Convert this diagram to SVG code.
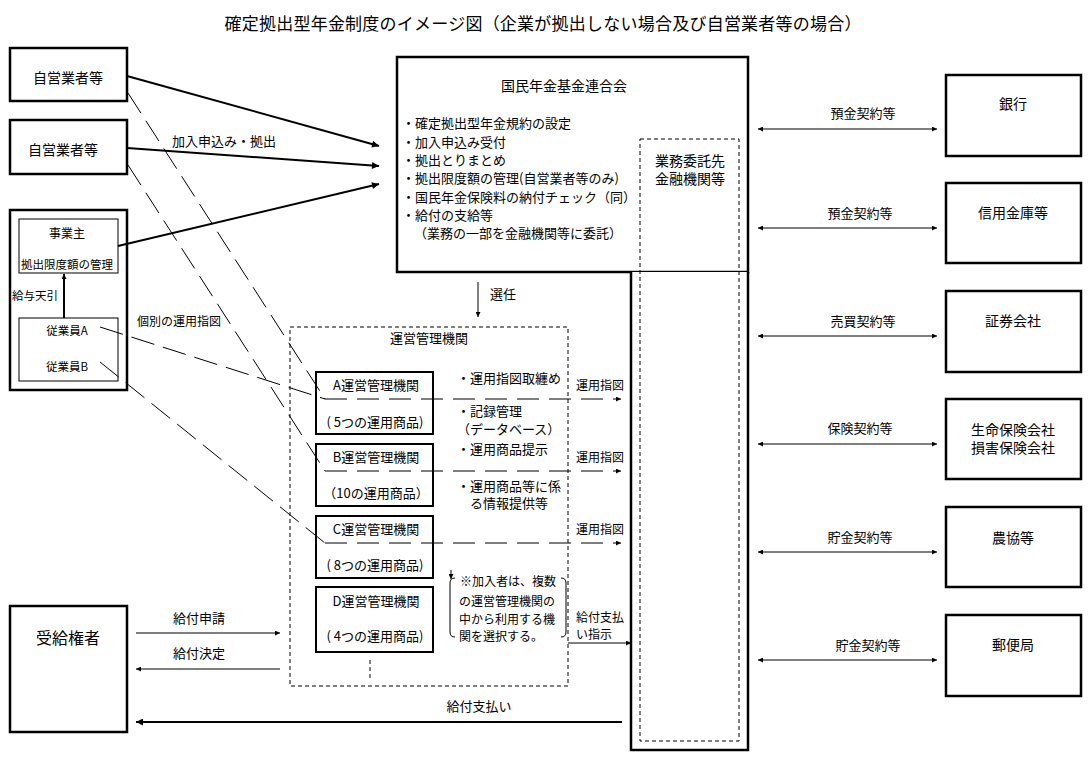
<svg xmlns="http://www.w3.org/2000/svg" width="1091" height="760" viewBox="0 0 1091 760">
<style>
text{font-family:"Noto Sans CJK JP","Noto Sans CJK SC",sans-serif;fill:#000;dominant-baseline:central}
.s11{font-size:11.5px}.s12{font-size:12px}.s13{font-size:13px}.s14{font-size:14px}.s16{font-size:16px}.s17{font-size:17px}
.m{text-anchor:middle}
.box{fill:#fff;stroke:#000;stroke-width:2.5}
.box2{fill:#fff;stroke:#000;stroke-width:2}
.thin{fill:#fff;stroke:#000;stroke-width:1}
.dbox{fill:none;stroke:#000;stroke-width:1;stroke-dasharray:4 3}
.ln{fill:none;stroke:#000;stroke-width:1}
.thick{fill:none;stroke:#000;stroke-width:2}
.ld{fill:none;stroke:#000;stroke-width:1;stroke-dasharray:24 9}
.lh{fill:none;stroke:#000;stroke-width:1;stroke-dasharray:22 10}
</style>
<defs>
<marker id="a" viewBox="0 0 10 10" refX="10" refY="5" markerWidth="6" markerHeight="5" markerUnits="userSpaceOnUse" orient="auto-start-reverse"><path d="M0,0 L10,5 L0,10 z"/></marker>
<marker id="ab" viewBox="0 0 10 10" refX="10" refY="5" markerWidth="9" markerHeight="7" markerUnits="userSpaceOnUse" orient="auto-start-reverse"><path d="M0,0 L10,5 L0,10 z"/></marker>
</defs>
<rect width="1091" height="760" fill="#fff"/>
<text class="s17 m" x="543" y="22" textLength="637">確定拠出型年金制度のイメージ図（企業が拠出しない場合及び自営業者等の場合）</text>

<g id="jieigyo1"><rect class="box" x="10" y="48" width="117" height="53"/><text class="s14 m" x="68" y="77">自営業者等</text></g>
<g id="jieigyo2"><rect class="box" x="10" y="120" width="117" height="54"/><text class="s14 m" x="63" y="149">自営業者等</text></g>
<g id="jigyosho"><rect class="box" x="10" y="210" width="117" height="180"/>
<rect class="thin" x="19" y="219" width="99" height="54"/><text class="s12 m" x="67" y="232">事業主</text><text class="s11 m" x="67" y="264" textLength="92">拠出限度額の管理</text>
<rect class="thin" x="19" y="318" width="99" height="63"/><text class="s11 m" x="67" y="330">従業員A</text><text class="s11 m" x="67" y="366">従業員B</text>
<text class="s11" x="12" y="295">給与天引</text></g>

<g id="kokumin"><rect class="box" x="397" y="57" width="351" height="215"/>
<text class="s14 m" x="564" y="85">国民年金基金連合会</text>
<text class="s13" x="402" y="122">・確定拠出型年金規約の設定</text>
<text class="s13" x="402" y="141">・加入申込み受付</text>
<text class="s13" x="402" y="159">・拠出とりまとめ</text>
<text class="s13" x="402" y="177">・拠出限度額の管理(自営業者等のみ)</text>
<text class="s13" x="402" y="196">・国民年金保険料の納付チェック（同）</text>
<text class="s13" x="402" y="214">・給付の支給等</text>
<text class="s13" x="414" y="232">（業務の一部を金融機関等に委託）</text></g>
<g id="column"><path class="box" d="M631,272 V750 H748 V272"/>
<rect class="dbox" x="640" y="139" width="99" height="602"/>
<text class="s14 m" x="690" y="160">業務委託先</text><text class="s14 m" x="690" y="178">金融機関等</text></g>

<g id="unei"><rect class="dbox" x="290" y="327" width="278" height="359"/>
<text class="s13 m" x="429" y="337">運営管理機関</text>
<path class="dbox" d="M370,660 V678"/>
<text class="s13" x="457" y="377">・運用指図取纏め</text>
<text class="s13" x="457" y="410">・記録管理</text>
<text class="s13" x="457" y="428">（データベース）</text>
<text class="s13" x="457" y="448">・運用商品提示</text>
<text class="s13" x="457" y="485">・運用商品等に係</text>
<text class="s13" x="470" y="502">る情報提供等</text>
<g id="note"><text class="s12" x="460" y="580">※加入者は、複数</text><text class="s12" x="459" y="600">の運営管理機関の</text><text class="s12" x="459" y="618">中から利用する機</text><text class="s12" x="459" y="635">関を選択する。</text>
<path class="ln" d="M455,578 Q450,578 450,583 V632 Q450,637 455,637"/>
<path class="ln" d="M561,578 Q566,578 566,583 V632 Q566,637 561,637"/>
<path class="ln" d="M451,570 V579" marker-end="url(#a)"/></g></g>
<g id="unA"><rect class="box2" x="316" y="372" width="117" height="62"/><text class="s13 m" x="376" y="384">A運営管理機関</text><text class="s13 m" x="375" y="421">( 5つの運用商品)</text></g>
<g id="unB"><rect class="box2" x="316" y="444" width="117" height="62"/><text class="s13 m" x="376" y="456">B運営管理機関</text><text class="s13 m" x="376" y="492">（10の運用商品）</text></g>
<g id="unC"><rect class="box2" x="316" y="516" width="117" height="62"/><text class="s13 m" x="376" y="528">C運営管理機関</text><text class="s13 m" x="375" y="564">( 8つの運用商品)</text></g>
<g id="unD"><rect class="box2" x="316" y="587" width="117" height="65"/><text class="s13 m" x="376" y="600">D運営管理機関</text><text class="s13 m" x="375" y="635">( 4つの運用商品)</text></g>

<g id="jukyu"><rect class="box" x="10" y="606" width="117" height="126"/><text class="s16 m" x="68" y="637">受給権者</text></g>

<g id="ginko"><rect class="box" x="946" y="75" width="135" height="81"/><text class="s14 m" x="1013" y="103">銀行</text></g>
<g id="shinkin"><rect class="box" x="946" y="183" width="135" height="80"/><text class="s14 m" x="1013" y="212">信用金庫等</text></g>
<g id="shoken"><rect class="box" x="946" y="291" width="135" height="81"/><text class="s14 m" x="1013" y="320">証券会社</text></g>
<g id="hoken"><rect class="box" x="946" y="399" width="135" height="80"/><text class="s14 m" x="1013" y="429">生命保険会社</text><text class="s14 m" x="1013" y="447">損害保険会社</text></g>
<g id="nokyo"><rect class="box" x="946" y="507" width="135" height="80"/><text class="s14 m" x="1013" y="537">農協等</text></g>
<g id="yubin"><rect class="box" x="946" y="615" width="135" height="81"/><text class="s14 m" x="1013" y="644">郵便局</text></g>

<g id="connectors">
<path class="thick" d="M127,76 L379,146" marker-end="url(#ab)"/>
<path class="thick" d="M127,148 L379,166" marker-end="url(#ab)"/>
<path class="thick" d="M118,246 L379,184" marker-end="url(#ab)"/>
<text class="s13" x="172" y="140">加入申込み・拠出</text>
<path class="thick" d="M64,318 V274" marker-end="url(#a)"/>
<path class="ln" d="M478,282 V317" marker-end="url(#a)"/>
<text class="s13" x="490" y="293">選任</text>
<path class="ld" d="M128,93 L325,399"/>
<path class="ld" d="M128,165 L325,471"/>
<path class="ld" d="M100,327 L325,399"/>
<path class="ld" d="M100,362 L325,543"/>
<text class="s12" x="137" y="320">個別の運用指図</text>
<path class="lh" d="M325,399 H621" marker-end="url(#a)"/>
<path class="lh" d="M325,471 H621" marker-end="url(#a)"/>
<path class="lh" d="M325,543 H621" marker-end="url(#a)"/>
<text class="s12" x="576" y="384">運用指図</text>
<text class="s12" x="576" y="456">運用指図</text>
<text class="s12" x="576" y="528">運用指図</text>
<path class="ln" d="M568,643 H631" marker-end="url(#a)"/>
<text class="s12" x="576" y="616">給付支払</text>
<text class="s12" x="576" y="633">い指示</text>
<path class="ln" d="M136,633 H280" marker-end="url(#a)"/>
<text class="s13 m" x="199" y="617">給付申請</text>
<path class="ln" d="M280,669 H136" marker-end="url(#a)"/>
<text class="s13 m" x="199" y="652">給付決定</text>
<path class="thick" d="M622,722 H136" marker-end="url(#ab)"/>
<text class="s13 m" x="479" y="705">給付支払い</text>
<path class="ln" d="M758,129 H937" marker-start="url(#a)" marker-end="url(#a)"/>
<text class="s13 m" x="863" y="112">預金契約等</text>
<path class="ln" d="M758,228 H937" marker-start="url(#a)" marker-end="url(#a)"/>
<text class="s13 m" x="860" y="212">預金契約等</text>
<path class="ln" d="M758,336 H937" marker-start="url(#a)" marker-end="url(#a)"/>
<text class="s13 m" x="863" y="320">売買契約等</text>
<path class="ln" d="M758,444 H937" marker-start="url(#a)" marker-end="url(#a)"/>
<text class="s13 m" x="860" y="427">保険契約等</text>
<path class="ln" d="M758,552 H937" marker-start="url(#a)" marker-end="url(#a)"/>
<text class="s13 m" x="860" y="536">貯金契約等</text>
<path class="ln" d="M758,660 H937" marker-start="url(#a)" marker-end="url(#a)"/>
<text class="s13 m" x="868" y="644">貯金契約等</text>
</g>
</svg>
